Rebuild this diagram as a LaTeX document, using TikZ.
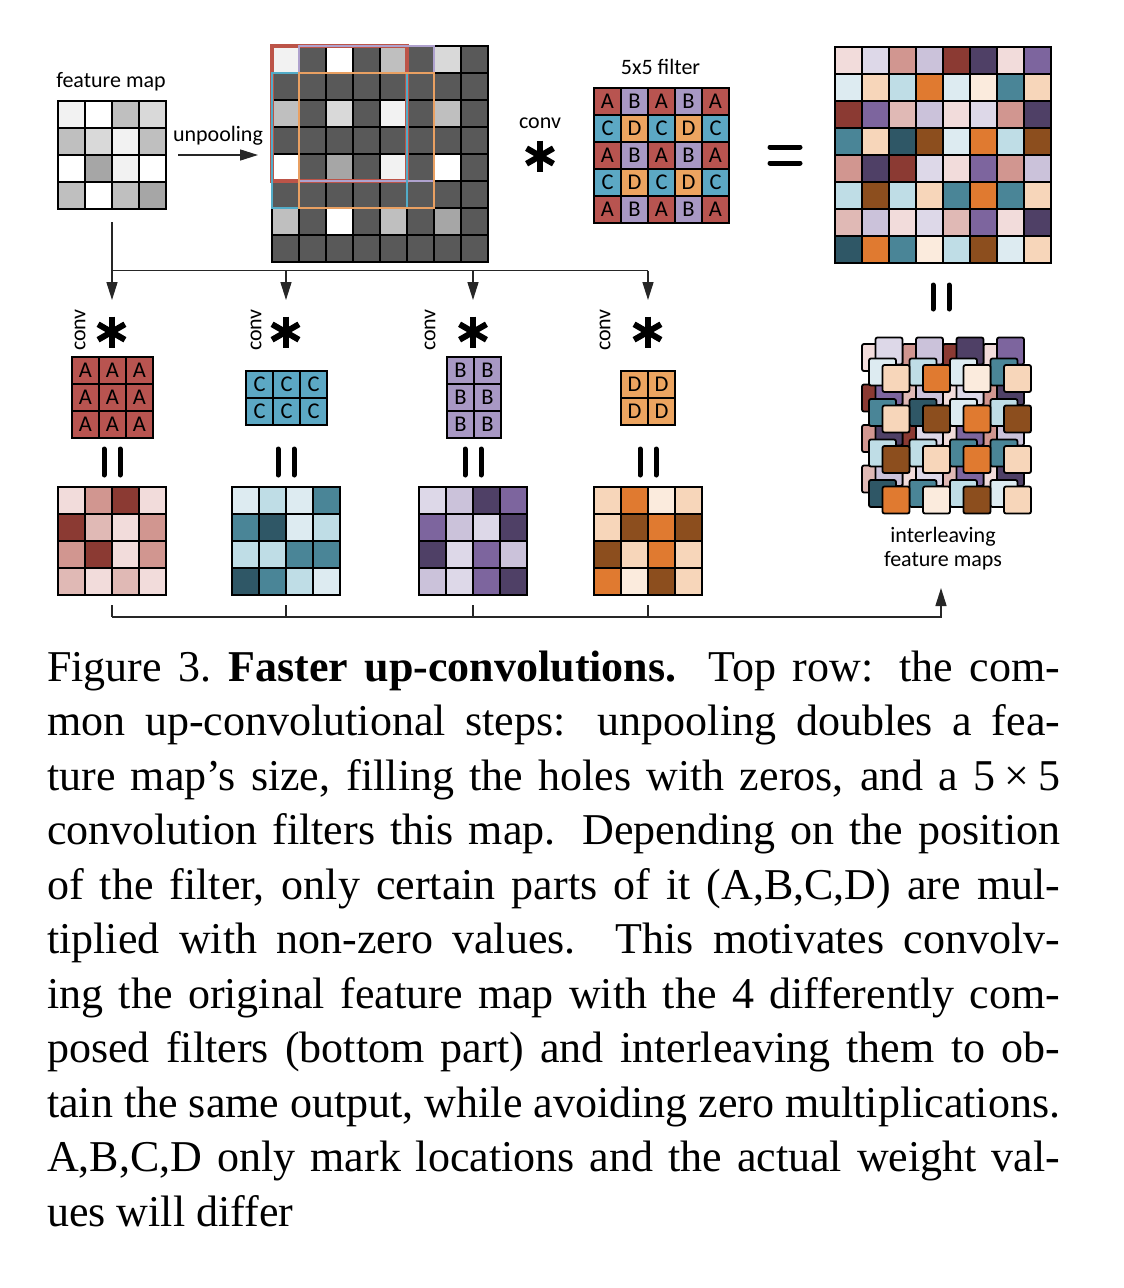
\documentclass[tikz,border=0pt]{standalone}
\usepackage{fontspec}
\setmainfont{Liberation Serif}
\newfontfamily\labfont{Carlito}
\usetikzlibrary{arrows.meta}
% grays
\definecolor{gF2}{HTML}{F2F2F2}
\definecolor{gD9}{HTML}{D9D9D9}
\definecolor{gBF}{HTML}{BFBFBF}
\definecolor{gA6}{HTML}{A6A6A6}
\definecolor{gdark}{HTML}{595959}
% filter colours
\definecolor{fA}{HTML}{B85450}
\definecolor{fB}{HTML}{A898C4}
\definecolor{fC}{HTML}{5CA8C4}
\definecolor{fD}{HTML}{ECA460}
% overlay colours
\definecolor{ovA}{HTML}{BC5448}
\definecolor{ovB}{HTML}{AFA2CE}
\definecolor{ovC}{HTML}{52ACC8}
\definecolor{ovD}{HTML}{E9A062}
% feature map families
\definecolor{a1}{HTML}{F2DCDB}
\definecolor{a2}{HTML}{E0B9B5}
\definecolor{a3}{HTML}{D19690}
\definecolor{a4}{HTML}{8B3A33}
\definecolor{b1}{HTML}{DDD8E8}
\definecolor{b2}{HTML}{CBC2DA}
\definecolor{b3}{HTML}{7D659E}
\definecolor{b4}{HTML}{4F4066}
\definecolor{c1}{HTML}{DDEBF1}
\definecolor{c2}{HTML}{BFDDE6}
\definecolor{c3}{HTML}{4A8597}
\definecolor{c4}{HTML}{2F5766}
\definecolor{d1}{HTML}{FBEBDD}
\definecolor{d2}{HTML}{F7D6BA}
\definecolor{d3}{HTML}{E07A30}
\definecolor{d4}{HTML}{8C4E1E}
\def\mapF{{gF2,white,gBF,gD9},{gBF,gD9,gF2,gBF},{white,gA6,gF2,white},{gBF,white,gBF,gA6}}
\def\mapA{{a1,a3,a4,a1},{a4,a2,a1,a3},{a3,a4,a1,a3},{a2,a1,a2,a1}}
\def\mapB{{b1,b2,b4,b3},{b3,b2,b1,b4},{b4,b1,b3,b2},{b2,b1,b3,b4}}
\def\mapC{{c1,c2,c1,c3},{c3,c4,c1,c2},{c2,c2,c3,c3},{c4,c3,c2,c1}}
\def\mapD{{d2,d3,d1,d2},{d2,d4,d3,d4},{d4,d2,d3,d2},{d3,d1,d4,d2}}
% x0, y0, step, size, list, style
\newcommand\drawlayer[6]{%
  \foreach \rw [count=\i from 0] in #5 {%
    \foreach \cl [count=\j from 0] in \rw {%
      \draw[#6, fill=\cl] ({#1+#3*\j},{#2+#3*\i}) rectangle ++(#4,#4);
    }%
  }%
}
\tikzset{astk/.pic={\foreach \a in {90,30,150}{\draw[line width=6pt] (\a:15.5pt) -- (\a+180:15.5pt);}}}
\begin{document}
\begin{tikzpicture}[x=1pt,y=-1pt,
  cellst/.style={draw=black, line width=1.5pt},
  roundst/.style={draw=black, line width=1.8pt, rounded corners=2pt},
  lab/.style={font=\labfont\fontsize{22}{26}\selectfont, inner sep=0},
  fcell/.style={draw=black, line width=1.5pt, minimum size=27pt, inner sep=0, font=\labfont\fontsize{22.5}{24}\selectfont},
  blk/.style={inner sep=0, outer sep=0},
  conn/.style={line width=1.5pt, draw=black!85},
  arr/.style={conn, -{Triangle[length=18pt,width=11pt]}},
  eqbar/.style={line width=5pt, line cap=round},
  capt/.style={anchor=base west, inner sep=0, font=\fontsize{44}{54.5}\selectfont}
]
\fill[white] (0,0) rectangle (1124,1288);
\useasboundingbox (0,0) rectangle (1124,1288);

% ---------- block anchors ----------
\node[blk, minimum width=108pt, minimum height=108pt] (fmap) at (112,155) {};
\node[blk, minimum width=216pt, minimum height=216pt] (unpool) at (380,154) {};
\node[blk, minimum width=135pt, minimum height=135pt] (filt) at (661.5,155.5) {};
\node[blk, minimum width=216pt, minimum height=216pt] (outmap) at (943,155) {};
\node[blk, minimum width=108pt, minimum height=108pt] (mA) at (112,541) {};
\node[blk, minimum width=108pt, minimum height=108pt] (mC) at (286,541) {};
\node[blk, minimum width=108pt, minimum height=108pt] (mB) at (473,541) {};
\node[blk, minimum width=108pt, minimum height=108pt] (mD) at (648,541) {};
\node[blk, minimum width=170pt, minimum height=176pt] (inter) at (946.5,425) {};

% ---------- feature map ----------
\node[lab] (lfm) at (111,82) {feature map};
\drawlayer{58}{101}{27}{27}{\mapF}{cellst}

% ---------- unpooling ----------
\node[lab] (lunp) at (218,136) {unpooling};
\draw[arr] ([xshift=12pt]fmap.east) -- ([xshift=-14pt]fmap.east -| unpool.west);
\foreach \i in {0,...,7}{\foreach \j in {0,...,7}{
  \draw[cellst, fill=gdark] ({272+27*\j},{46+27*\i}) rectangle ++(27,27);}}
\drawlayer{272}{46}{54}{27}{\mapF}{cellst}
\draw[line width=4pt, draw=ovA] (272,46) rectangle (407,181);
\draw[line width=2.2pt, draw=ovB] (299,46) rectangle (434,181);
\draw[line width=2.2pt, draw=ovC] (272,73) rectangle (407,208);
\draw[line width=1.6pt, draw=ovD] (299,73) rectangle (434,208);

% ---------- conv * filter = ----------
\node[lab] (lconv) at (540,123) {conv};
\pic at (540,156) {astk};
\node[lab] (l5) at (660.5,66.5) {5x5 filter};
\foreach \rw [count=\i from 0] in {{A,B,A,B,A},{C,D,C,D,C},{A,B,A,B,A},{C,D,C,D,C},{A,B,A,B,A}}{
  \foreach \L [count=\j from 0] in \rw {
    \node[fcell, fill=f\L] (f5-\i-\j) at ({594+13.5+27*\j},{88+13.5+27*\i}) {\L};}}
\draw[eqbar] (770,147) -- (800,147);
\draw[eqbar] (770,163) -- (800,163);

% ---------- output 8x8 ----------
\drawlayer{835}{47}{54}{27}{\mapA}{cellst}
\drawlayer{862}{47}{54}{27}{\mapB}{cellst}
\drawlayer{835}{74}{54}{27}{\mapC}{cellst}
\drawlayer{862}{74}{54}{27}{\mapD}{cellst}
\draw[eqbar] (933,285) -- (933,309);
\draw[eqbar] (949,285) -- (949,309);

% ---------- distribution arrows ----------
\coordinate (bus) at (112,270.5);
\coordinate (tA) at (112,300);
\coordinate (tC) at (286,300);
\coordinate (tB) at (473,300);
\coordinate (tD) at (648,300);
\draw[arr] ([yshift=-13pt]fmap.south) -- (tA);
\draw[conn] (bus) -- (bus -| tD);
\foreach \t in {tC,tB,tD}{\draw[arr] (bus -| \t) -- (\t);}

% ---------- small filters ----------
\foreach \x/\nm in {80/cA,256/cC,430/cB,605/cD}{
  \node[lab, rotate=90] (\nm) at (\x,330) {conv};}
\foreach \x in {111.5,285.5,473,647.5}{\pic at (\x,332) {astk};}
\foreach \i in {0,1,2}{\foreach \j in {0,1,2}{
  \node[fcell, fill=fA] (fa-\i-\j) at ({72+13.5+27*\j},{357+13.5+27*\i}) {A};}}
\foreach \i in {0,1}{\foreach \j in {0,1,2}{
  \node[fcell, fill=fC] (fc-\i-\j) at ({246+13.5+27*\j},{371+13.5+27*\i}) {C};}}
\foreach \i in {0,1,2}{\foreach \j in {0,1}{
  \node[fcell, fill=fB] (fb-\i-\j) at ({447+13.5+27*\j},{357+13.5+27*\i}) {B};}}
\foreach \i in {0,1}{\foreach \j in {0,1}{
  \node[fcell, fill=fD] (fd-\i-\j) at ({621+13.5+27*\j},{371+13.5+27*\i}) {D};}}
\foreach \x in {112,286,473,648}{
  \draw[eqbar] ({\x-8},449) -- ({\x-8},475);
  \draw[eqbar] ({\x+8},449) -- ({\x+8},475);}

% ---------- result maps ----------
\drawlayer{58}{487}{27}{27}{\mapA}{cellst}
\drawlayer{232}{487}{27}{27}{\mapC}{cellst}
\drawlayer{419}{487}{27}{27}{\mapB}{cellst}
\drawlayer{594}{487}{27}{27}{\mapD}{cellst}

% ---------- interleaving ----------
\drawlayer{862}{344}{40.5}{27}{\mapA}{roundst}
\drawlayer{875.5}{337.5}{40.5}{27}{\mapB}{roundst}
\drawlayer{869}{358.5}{40.5}{27}{\mapC}{roundst}
\drawlayer{882.5}{365}{40.5}{27}{\mapD}{roundst}
\node[lab] (lint1) at (943,537) {interleaving};
\node[lab] (lint2) at (943,561) {feature maps};

% ---------- gathering connector ----------
\coordinate (botR) at (941,617);
\coordinate (intArrow) at (941,588);
\foreach \m in {mA,mC,mB,mD}{\draw[conn] ([yshift=-10pt]\m.south) -- (\m.south |- botR);}
\draw[arr] (mA.south |- botR) -- (botR) -- (intArrow);

% ---------- caption ----------
\node[capt] (cap1) at (47,681) {\makebox[1013pt][s]{Figure 3.\ \textbf{Faster up-convolutions.} Top row: the com-}};
\node[capt] (cap2) at (47,735.5) {\makebox[1013pt][s]{mon up-convolutional steps: unpooling doubles a fea-}};
\node[capt] (cap3) at (47,790) {\makebox[1013pt][s]{ture map’s size, filling the holes with zeros, and a 5\kern9pt×\kern9pt5}};
\node[capt] (cap4) at (47,844.5) {\makebox[1013pt][s]{convolution filters this map. Depending on the position}};
\node[capt] (cap5) at (47,899) {\makebox[1013pt][s]{of the filter, only certain parts of it (A,B,C,D) are mul-}};
\node[capt] (cap6) at (47,953.5) {\makebox[1013pt][s]{tiplied with non-zero values. This motivates convolv-}};
\node[capt] (cap7) at (47,1008) {\makebox[1013pt][s]{ing the original feature map with the 4 differently com-}};
\node[capt] (cap8) at (47,1062.5) {\makebox[1013pt][s]{posed filters (bottom part) and interleaving them to ob-}};
\node[capt] (cap9) at (47,1117) {\makebox[1013pt][s]{tain the same output, while avoiding zero multiplications.}};
\node[capt] (cap10) at (47,1171.5) {\makebox[1013pt][s]{A,B,C,D only mark locations and the actual weight val-}};
\node[capt] (cap11) at (47,1226) {ues will differ};
\end{tikzpicture}
\end{document}
